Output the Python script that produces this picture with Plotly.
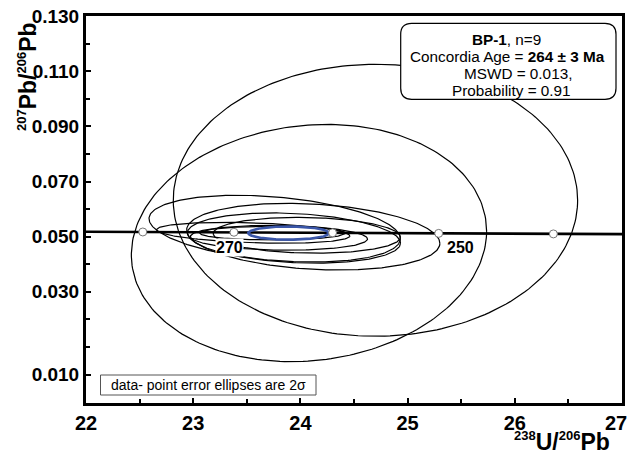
import numpy as np
import plotly.graph_objects as go

# ---- data ----
# Data-point 2-sigma error ellipses: centre, half-extent in x, half-extent in y, correlation
ell_x   = [24.70, 24.08, 23.76, 24.12, 23.94, 24.06, 23.56, 23.80, 23.74]
ell_y   = [0.0632, 0.0477, 0.0529, 0.0500, 0.0495, 0.0505, 0.0514, 0.0496, 0.0513]
ell_sx  = [1.886, 1.657, 1.172, 1.181, 0.994, 0.873, 0.901, 0.826, 0.677]
ell_sy  = [0.0493, 0.0430, 0.0121, 0.0121, 0.0091, 0.0065, 0.0038, 0.0045, 0.0025]
ell_rho = [0.0, 0.1, -0.3, -0.2, -0.2, -0.1, -0.3, -0.1, 0.0]

# Concordia age ellipse (264 +/- 3 Ma)
conc_age_x, conc_age_y, conc_age_sx, conc_age_sy = 23.89, 0.0513, 0.376, 0.0024

# Concordia curve and age marks
conc_x = [21.9, 22.53, 23.38, 24.30, 25.29, 26.36, 27.1]
conc_y = [0.0518, 0.0517, 0.0516, 0.0514, 0.0512, 0.0510, 0.0509]
mark_ages = [280, 270, 260, 250, 240]
mark_x = [22.53, 23.38, 24.30, 25.29, 26.36]
mark_y = [0.0517, 0.0516, 0.0514, 0.0512, 0.0510]
label_ages = ["270", "250"]
label_x = [23.34, 25.49]
label_y = [0.0461, 0.0461]

# Axis ticks
x_ticks = [22, 23, 24, 25, 26, 27]
x_ticktext = ["22", "23", "24", "25", "26", "27"]
x_minor = [22.5, 23.5, 24.5, 25.5, 26.5]
y_tickvals = [0.13, 0.11, 0.09, 0.07, 0.05, 0.03, 0.0]
y_ticktext = ["0.130", "0.110", "0.090", "0.070", "0.050", "0.030", "0.010"]
y_minor = [0.12, 0.10, 0.08, 0.06, 0.04, 0.02, 0.01]

FONT = "Liberation Sans, Arial, Helvetica, sans-serif"

def ellipse(cx, cy, sx, sy, rho, n=240):
    t = np.linspace(0, 2 * np.pi, n)
    x = cx + sx * np.cos(t)
    y = cy + sy * (rho * np.cos(t) + np.sqrt(1 - rho ** 2) * np.sin(t))
    return x, y

fig = go.Figure()
for cx, cy, sx, sy, r in zip(ell_x, ell_y, ell_sx, ell_sy, ell_rho):
    ex, ey = ellipse(cx, cy, sx, sy, r)
    fig.add_trace(go.Scatter(x=ex, y=ey, mode="lines",
                             line=dict(color="black", width=1.2),
                             hoverinfo="skip", showlegend=False))

fig.add_trace(go.Scatter(x=conc_x, y=conc_y, mode="lines",
                         line=dict(color="black", width=2.6),
                         hoverinfo="skip", showlegend=False))

bx, by = ellipse(conc_age_x, conc_age_y, conc_age_sx, conc_age_sy, 0.0)
fig.add_trace(go.Scatter(x=bx, y=by, mode="lines",
                         line=dict(color="#3a56a8", width=2.6),
                         hoverinfo="skip", showlegend=False))

fig.add_trace(go.Scatter(x=mark_x, y=mark_y, mode="markers",
                         marker=dict(symbol="circle", size=8, color="white",
                                     line=dict(color="#777777", width=1)),
                         text=[str(a) for a in mark_ages],
                         hoverinfo="text", showlegend=False))

for lt, lx, ly in zip(label_ages, label_x, label_y):
    fig.add_annotation(x=lx, y=ly, xref="x", yref="y", text=lt, showarrow=False,
                       xanchor="center", yanchor="middle",
                       font=dict(family=FONT, size=16, color="black", weight="bold"),
                       bgcolor="white", borderpad=0)

# plot area geometry in pixels (for box placement)
L, R, T, B = 86, 622, 16, 403
W, H = R - L, B - T
def px(xp):
    return (xp - L) / W
def py(yp):
    return (B - yp) / H

TICKFONT_X = dict(family=FONT, size=20, color="black", weight="bold")

# last x tick label is drawn pulled in from the right edge (as in the reference)
shown_xtext = x_ticktext[:-1] + [""]
fig.add_annotation(x=x_ticks[-1], xref="x", y=py(423), yref="paper",
                   text=x_ticktext[-1], showarrow=False, xshift=-6,
                   xanchor="center", yanchor="middle", font=TICKFONT_X)

# Rounded info box
x0, x1, y0, y1 = px(400.7), px(616), py(99.3), py(23.3)
rx, ry = 11 / W, 11 / H
path = (f"M {x0+rx},{y1} L {x1-rx},{y1} Q {x1},{y1} {x1},{y1-ry} "
        f"L {x1},{y0+ry} Q {x1},{y0} {x1-rx},{y0} L {x0+rx},{y0} "
        f"Q {x0},{y0} {x0},{y0+ry} L {x0},{y1-ry} Q {x0},{y1} {x0+rx},{y1} Z")
fig.add_shape(type="path", path=path, xref="paper", yref="paper",
              line=dict(color="black", width=1.2), fillcolor="white", layer="above")

info_lines = ["<b>BP-1</b>, n=9",
              "Concordia Age = <b>264 ± 3 Ma</b>",
              "MSWD = 0.013,",
              "Probability = 0.91"]
info_cx = [506.7, 507.5, 518, 511.7]
info_cy = [39.5, 56.5, 73.3, 90]
for t_, cxp, cyp in zip(info_lines, info_cx, info_cy):
    fig.add_annotation(x=px(cxp), y=py(cyp), xref="paper", yref="paper", text=t_,
                       showarrow=False, xanchor="center", yanchor="middle",
                       font=dict(family=FONT, size=15.3, color="black"))

# Legend-like note box
fig.add_shape(type="rect", xref="paper", yref="paper",
              x0=px(100.5), x1=px(316), y0=py(395), y1=py(375),
              line=dict(color="#555555", width=1), fillcolor="white", layer="above")
fig.add_annotation(x=px(208), y=py(385), xref="paper", yref="paper",
                   text="data- point error ellipses are 2σ", showarrow=False,
                   xanchor="center", yanchor="middle",
                   font=dict(family=FONT, size=14, color="black"))

# Axis titles
SUP = '<sup><span style="font-size:13px">{}</span></sup>'
xtitle = SUP.format("238") + "U/" + SUP.format("206") + "Pb"
ytitle = SUP.format("207") + "Pb/" + SUP.format("206") + "Pb"
fig.add_annotation(x=px(612), y=py(441), xref="paper", yref="paper",
                   text=xtitle, showarrow=False,
                   xanchor="right", yanchor="middle",
                   font=dict(family=FONT, size=23, color="black", weight="bold"))
fig.add_annotation(x=px(27), y=py(77), xref="paper", yref="paper",
                   text=ytitle, showarrow=False,
                   textangle=-90, xanchor="center", yanchor="middle",
                   font=dict(family=FONT, size=23, color="black", weight="bold"))

fig.update_xaxes(range=[22, 27], tickvals=x_ticks, ticktext=shown_xtext,
                 ticks="inside", ticklen=5, tickwidth=2, tickcolor="black",
                 minor=dict(tickvals=x_minor, ticks="inside", ticklen=4, tickwidth=1.5,
                            tickcolor="black"),
                 showline=True, linewidth=3, linecolor="black", mirror=True,
                 showgrid=False, zeroline=False,
                 automargin=False, tickfont=TICKFONT_X)
fig.update_yaxes(range=[-0.0103, 0.130], tickvals=y_tickvals, ticktext=y_ticktext,
                 ticks="inside", ticklen=5, tickwidth=2, tickcolor="black",
                 minor=dict(tickvals=y_minor, ticks="inside", ticklen=4, tickwidth=1.5,
                            tickcolor="black"),
                 showline=True, linewidth=3, linecolor="black", mirror=True,
                 showgrid=False, zeroline=False, ticklabeloverflow="allow",
                 automargin=False,
                 tickfont=dict(family=FONT, size=19, color="black", weight="bold"))

fig.update_layout(width=628, height=451,
                  margin=dict(l=L, r=628 - R, t=T, b=451 - B, autoexpand=False),
                  plot_bgcolor="white", paper_bgcolor="white",
                  showlegend=False)

fig.write_html("out.html")
